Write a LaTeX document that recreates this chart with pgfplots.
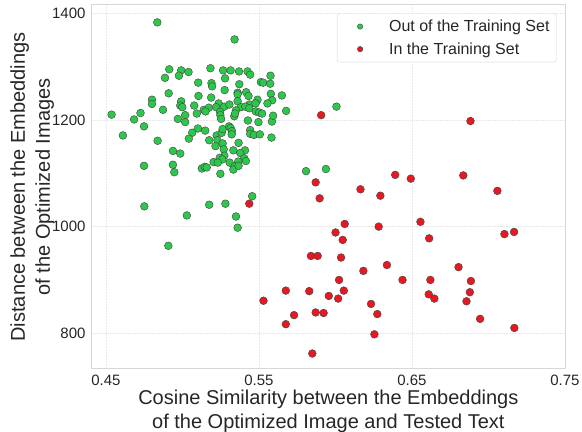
\documentclass[border=0pt]{standalone}
\usepackage{pgfplots}
\pgfplotsset{compat=1.18}
\usepackage{fontspec}
\setmainfont{Liberation Sans}
\definecolor{ptgreen}{RGB}{45,200,75}
\definecolor{ptred}{RGB}{230,25,35}
\definecolor{gridc}{RGB}{232,232,232}
\definecolor{framec}{RGB}{215,215,215}
\begin{document}
\begin{tikzpicture}
\begin{axis}[
 scale only axis, width=473.3pt, height=364pt,
 xmin=0.4407, xmax=0.7501, ymin=733, ymax=1415.6,
 xtick={0.45,0.55,0.65,0.75}, xticklabels={0.45,0.55,0.65,0.75},
 ytick={800,1000,1200,1400}, yticklabels={800,1000,1200,1400},
 major tick length=0pt,
 grid=major, major grid style={draw=gridc, line width=0.6pt, dash pattern=on 2pt off 1pt},
 axis line style={draw=framec, line width=1pt},
 tick label style={font=\fontsize{15}{18}\selectfont, text=black!85, inner sep=0pt},
 xticklabel style={yshift=-5.5pt},
 yticklabel style={xshift=-6pt},
 xlabel={Cosine Similarity between the Embeddings\\of the Optimized Image and Tested Text},
 ylabel={Distance between the Embeddings\\of the Optimized Images},
 every axis x label/.style={at={(axis description cs:0.5,0)}, anchor=north, yshift=-21pt, align=center, inner sep=0pt, text=black!85, font=\fontsize{20}{24}\selectfont},
 every axis y label/.style={at={([xshift=-37.5pt]axis description cs:0,0.5)}, rotate=90, anchor=south, align=center, inner sep=0pt, text=black!85, font=\fontsize{20}{25}\selectfont},
 legend style={at={(1,1)}, anchor=north east, xshift=-8.3pt, yshift=-8.3pt, draw=framec, rounded corners=3pt, fill=white, font=\fontsize{16}{19}\selectfont, text=black!85, inner xsep=7pt, inner ysep=6.5pt, row sep=9.5pt, column sep=0pt, nodes={inner sep=0pt}},
 legend cell align=left,
 legend image code/.code={\path[draw=none,fill=none] (0pt,-4pt) rectangle (45pt,4pt); \draw[#1, mark size=2.7pt] plot coordinates {(16pt,0pt)};},
]
\addplot[only marks, mark=*, mark size=3.9pt, mark options={fill=ptgreen, draw=black!75, line width=0.4pt}] table {
x y
0.4836 1383
0.5341 1351
0.4914 1295
0.4992 1293
0.5040 1290
0.4977 1283
0.4886 1279
0.5183 1297
0.5266 1293
0.5315 1293
0.5370 1291
0.5426 1291
0.5443 1285
0.5576 1283
0.5279 1278
0.5103 1270
0.5190 1269
0.5194 1263
0.5372 1267
0.5513 1271
0.5528 1270
0.5574 1268
0.4910 1250
0.5276 1256
0.5361 1251
0.5361 1248
0.5417 1252
0.5432 1245
0.5578 1249
0.5650 1246
0.5105 1245
0.5188 1242
0.4801 1238
0.4801 1230
0.4992 1235
0.5361 1235
0.5491 1238
0.5587 1237
0.4986 1227
0.4999 1224
0.5077 1227
0.5237 1231
0.5274 1225
0.5307 1229
0.5383 1224
0.5439 1229
0.5478 1231
0.5556 1231
0.4873 1219
0.5140 1219
0.5173 1223
0.5220 1224
0.5350 1218
0.5411 1225
0.5437 1222
0.5480 1216
0.5502 1214
0.5521 1212
0.5678 1217
0.4537 1210
0.4726 1213
0.4684 1201
0.4749 1188
0.4611 1171
0.4838 1161
0.4970 1202
0.5018 1209
0.5018 1196
0.5094 1212
0.5151 1216
0.5246 1215
0.5248 1209
0.5253 1202
0.5339 1207
0.5344 1212
0.5428 1199
0.5497 1196
0.5585 1197
0.5593 1208
0.5101 1184
0.5149 1180
0.5064 1176
0.5042 1165
0.5175 1162
0.5224 1171
0.5257 1176
0.5263 1183
0.5305 1188
0.5315 1185
0.5324 1179
0.5322 1173
0.5443 1181
0.5443 1174
0.5467 1172
0.5506 1173
0.5582 1167
0.5229 1162
0.5216 1151
0.5263 1156
0.5270 1145
0.5367 1157
0.4938 1142
0.4986 1137
0.5333 1143
0.5409 1143
0.5378 1138
0.5274 1133
0.5244 1129
0.5261 1126
0.5404 1128
0.5415 1123
0.5365 1122
0.5204 1121
0.5231 1120
0.5309 1120
0.4749 1114
0.4938 1116
0.4947 1102
0.5127 1109
0.5146 1112
0.5159 1111
0.5248 1099
0.5341 1113
0.5333 1107
0.5367 1114
0.5808 1104
0.5938 1108
0.4751 1038
0.5029 1021
0.5175 1041
0.5281 1043
0.5350 1019
0.5361 998
0.5456 1057
0.4908 964
0.6007 1225
};
\addlegendentry{Out of the Training Set}
\addplot[only marks, mark=*, mark size=3.9pt, mark options={fill=ptred, draw=black!75, line width=0.4pt}] table {
x y
0.5907 1209
0.6883 1198
0.5871 1083
0.5897 1053
0.5437 1043
0.6391 1097
0.6493 1090
0.6836 1096
0.6164 1070
0.6294 1058
0.7059 1067
0.6061 1005
0.6001 989
0.6048 975
0.6283 1000
0.6556 1009
0.6613 978
0.7105 986
0.7168 990
0.5840 945
0.5884 945
0.6037 942
0.6337 928
0.6183 917
0.6805 924
0.6024 900
0.6439 900
0.6621 900
0.6886 898
0.5676 880
0.5829 879
0.6055 880
0.5530 861
0.5957 870
0.6018 865
0.6610 873
0.6647 865
0.6879 877
0.6857 860
0.6233 855
0.5730 834
0.5871 839
0.5923 838
0.6274 836
0.6946 827
0.7170 810
0.5676 817
0.6255 798
0.5849 762
};
\addlegendentry{In the Training Set}
\coordinate (sw) at (rel axis cs:0,0);
\coordinate (ne) at (rel axis cs:1,1);
\end{axis}
\pgfresetboundingbox
\path[use as bounding box] ([shift={(-91.7pt,-63pt)}]sw) rectangle ([shift={(17pt,5pt)}]ne);
\end{tikzpicture}
\end{document}
